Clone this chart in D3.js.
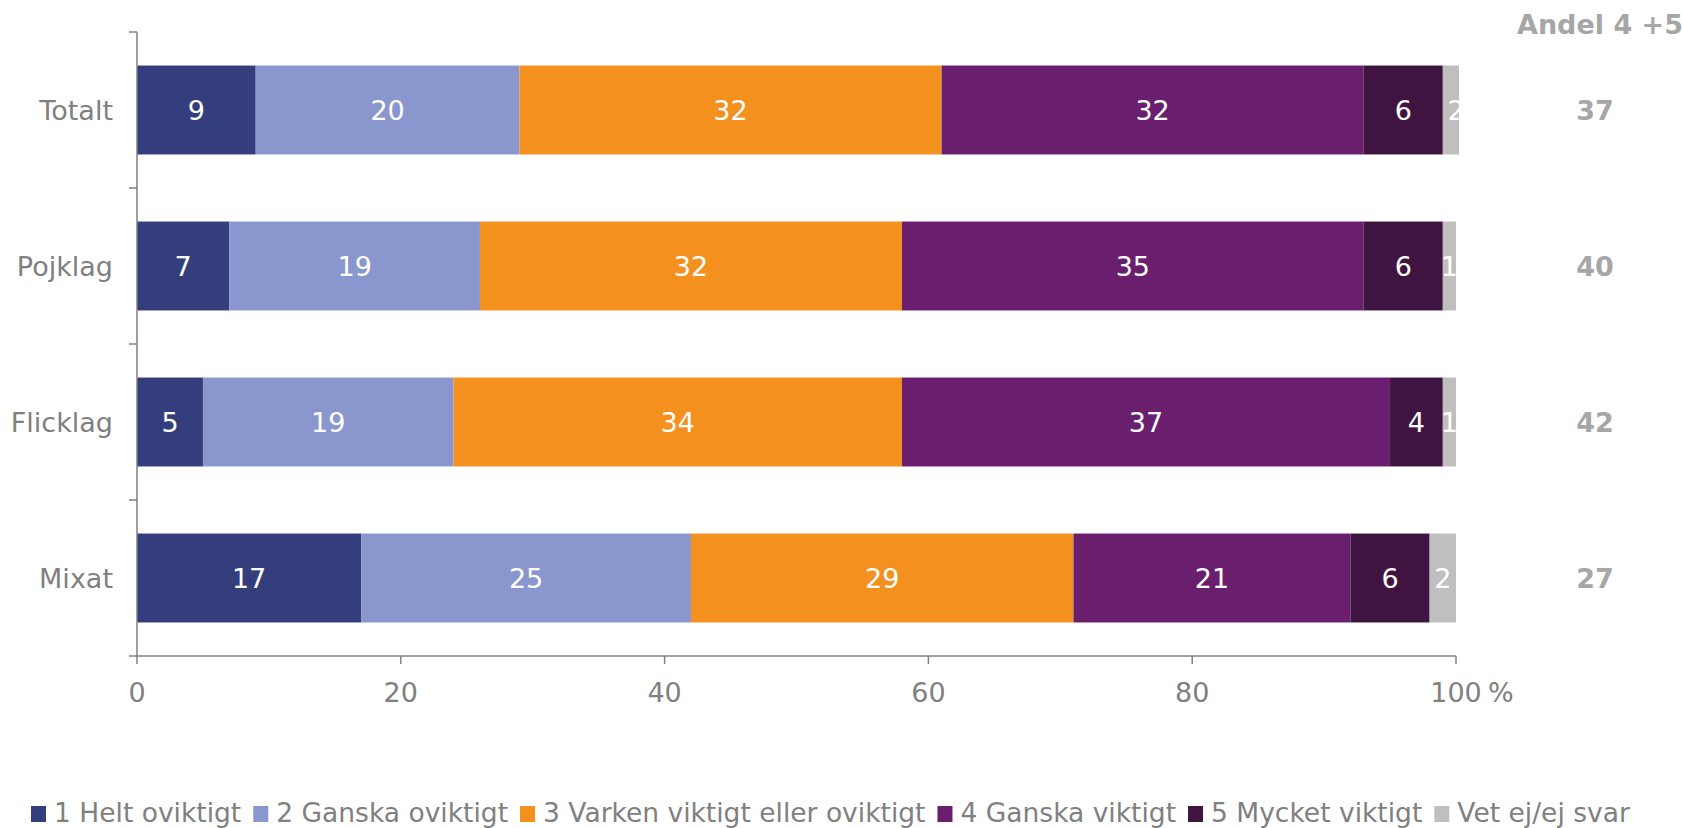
<!DOCTYPE html>
<html>
<head>
<meta charset="utf-8">
<script src="https://cdn.jsdelivr.net/npm/d3@7/dist/d3.min.js"></script>
<style>
  html, body { margin: 0; padding: 0; background: #fff; }
  svg { display: block; font-family: "DejaVu Sans", Verdana, sans-serif; }
</style>
</head>
<body>
<div id="chart"></div>
<script>
(function () {
    const width = 1682;
    const height = 828;

    // Data
    const groups = ["Totalt", "Pojklag", "Flicklag", "Mixat"];
    const seriesNames = ["1 Helt oviktigt", "2 Ganska oviktigt", "3 Varken viktigt eller oviktigt",
        "4 Ganska viktigt", "5 Mycket viktigt", "Vet ej/ej svar"];
    const seriesColors = ["#353e7c", "#8a97cf", "#f4901e", "#6a1e6e", "#3f1440", "#bfbfbf"];
    const values = [
        [9, 20, 32, 32, 6, 2],   // Totalt
        [7, 19, 32, 35, 6, 1],   // Pojklag
        [5, 19, 34, 37, 4, 1],   // Flicklag
        [17, 25, 29, 21, 6, 2]   // Mixat
    ];
    const andel = [37, 40, 42, 27];
    const xTicks = [0, 20, 40, 60, 80, 100];

    const grey = "#808080";
    const fontSize = 27;

    const svg = d3.select("#chart")
        .append("svg")
        .attr("width", width)
        .attr("height", height);

    // Scales
    const x = d3.scaleLinear().domain([0, 100]).range([137, 1456]);
    const y = d3.scaleBand()
        .domain(groups)
        .range([32, 656])
        .paddingInner(0.43)
        .paddingOuter(0.215);

    // Clip to the plot area (Excel cuts the bar that goes past 100)
    svg.append("defs").append("clipPath")
        .attr("id", "plotClip")
        .append("rect")
        .attr("x", x(0))
        .attr("y", 0)
        .attr("width", x(100) + 3 - x(0))
        .attr("height", height);

    const plot = svg.append("g").attr("clip-path", "url(#plotClip)");

    // Stack the segments
    const segments = [];
    values.forEach((row, gi) => {
        let acc = 0;
        row.forEach((v, si) => {
            segments.push({ group: groups[gi], s: si, x0: acc, x1: acc + v, value: v });
            acc += v;
        });
    });

    plot.selectAll("rect.seg")
        .data(segments)
        .enter()
        .append("rect")
        .attr("class", "seg")
        .attr("x", d => x(d.x0))
        .attr("y", d => y(d.group))
        .attr("width", d => x(d.x1) - x(d.x0))
        .attr("height", y.bandwidth())
        .attr("fill", d => seriesColors[d.s]);

    // Value labels
    plot.selectAll("text.lbl")
        .data(segments)
        .enter()
        .append("text")
        .attr("class", "lbl")
        .attr("x", d => x((d.x0 + d.x1) / 2))
        .attr("y", d => y(d.group) + y.bandwidth() / 2)
        .attr("dy", "0.36em")
        .attr("text-anchor", "middle")
        .style("font-size", fontSize + "px")
        .style("fill", "#fff")
        .text(d => d.value);

    // Y axis line and ticks
    const axisG = svg.append("g").attr("stroke", grey).attr("stroke-width", 1.5);
    axisG.append("line")
        .attr("x1", x(0)).attr("x2", x(0))
        .attr("y1", y.range()[0]).attr("y2", y.range()[1]);
    const yTickPos = d3.range(groups.length + 1).map(i => y.range()[0] + i * y.step());
    axisG.selectAll("line.ytick")
        .data(yTickPos)
        .enter()
        .append("line")
        .attr("x1", x(0) - 8).attr("x2", x(0))
        .attr("y1", d => d).attr("y2", d => d);

    // X axis line and ticks
    axisG.append("line")
        .attr("x1", x(0)).attr("x2", x(100))
        .attr("y1", y.range()[1]).attr("y2", y.range()[1]);
    axisG.selectAll("line.xtick")
        .data(xTicks)
        .enter()
        .append("line")
        .attr("x1", d => x(d)).attr("x2", d => x(d))
        .attr("y1", y.range()[1]).attr("y2", y.range()[1] + 8);

    // X tick labels
    svg.append("g")
        .selectAll("text")
        .data(xTicks)
        .enter()
        .append("text")
        .attr("x", d => x(d))
        .attr("y", 702)
        .attr("text-anchor", "middle")
        .style("font-size", fontSize + "px")
        .style("fill", grey)
        .text(d => d);

    svg.append("text")
        .attr("x", x(100) + 32)
        .attr("y", 702)
        .style("font-size", fontSize + "px")
        .style("fill", grey)
        .text("%");

    // Y labels
    svg.append("g")
        .selectAll("text")
        .data(groups)
        .enter()
        .append("text")
        .attr("x", 113)
        .attr("y", d => y(d) + y.bandwidth() / 2)
        .attr("dy", "0.36em")
        .attr("text-anchor", "end")
        .style("font-size", fontSize + "px")
        .style("fill", grey)
        .text(d => d);

    // Andel 4 + 5 column
    svg.append("text")
        .attr("x", 1517)
        .attr("y", 34)
        .style("font-size", fontSize + "px")
        .style("font-weight", "bold")
        .style("fill", "#a6a6a6")
        .text("Andel 4 +5");

    svg.append("g")
        .selectAll("text")
        .data(andel)
        .enter()
        .append("text")
        .attr("x", 1595)
        .attr("y", (d, i) => y(groups[i]) + y.bandwidth() / 2)
        .attr("dy", "0.36em")
        .attr("text-anchor", "middle")
        .style("font-size", fontSize + "px")
        .style("font-weight", "bold")
        .style("fill", "#a6a6a6")
        .text(d => d);

    // Legend
    const legend = svg.append("g");
    let lx = 31;
    seriesNames.forEach((name, i) => {
        legend.append("rect")
            .attr("x", lx)
            .attr("y", 806)
            .attr("width", 15)
            .attr("height", 16)
            .attr("fill", seriesColors[i]);
        const t = legend.append("text")
            .attr("x", lx + 23)
            .attr("y", 822)
            .style("font-size", "26.5px")
            .style("fill", grey)
            .text(name);
        lx += 23 + t.node().getComputedTextLength() + 12;
    });
})();
</script>
</body>
</html>
